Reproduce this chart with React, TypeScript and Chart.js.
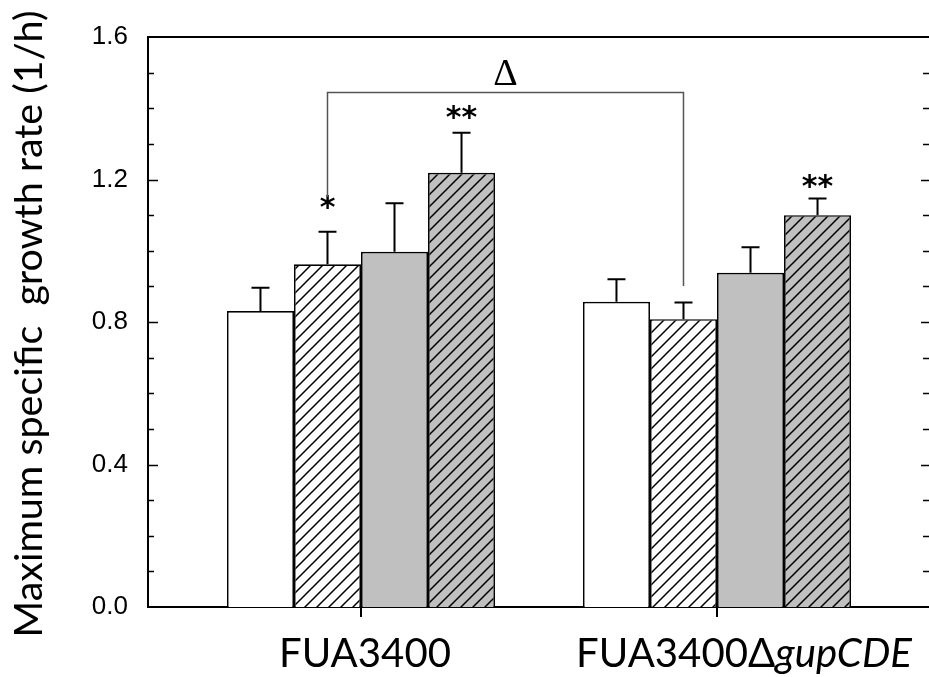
import React, { useEffect, useRef } from "react";
import { Chart, registerables } from "chart.js";

Chart.register(...registerables);

// ---------- data ----------
const categories = ["FUA3400", "FUA3400Δ", "gupCDE"]; // second label = categories[1] + italic categories[2]
const categoryValues = [0, 1];
const seriesNames = ["Condition 1", "Condition 2", "Condition 3", "Condition 4"];
const seriesMeans = [
  [0.831, 0.857],
  [0.962, 0.808],
  [0.997, 0.938],
  [1.219, 1.1],
];
const seriesErrors = [
  [0.065, 0.063],
  [0.091, 0.047],
  [0.136, 0.072],
  [0.112, 0.047],
];
const yTickValues = [0, 0.4, 0.8, 1.2, 1.6];
// significance markers: dataset index, category index, label, value where the label is centred
const starDataset = [1, 3, 3];
const starCategory = [0, 0, 1];
const starLabels = ["*", "**", "**"];
const starValues = [1.135, 1.389, 1.193];
// comparison bracket between dataset 1 of both categories
const bracketDataset = 1;
const bracketTop = 1.446;
const bracketEnds = [1.151, 0.901];
const bracketLabel = "Δ";
const yTitle = "Maximum specific  growth rate (1/h)";

export default function App() {
  const ref = useRef<HTMLCanvasElement>(null);

  useEffect(() => {
    const canvas = ref.current!;
    const ctx = canvas.getContext("2d")!;

    const makeHatch = (bg: string) => {
      const s = 12;
      const t = document.createElement("canvas");
      t.width = s;
      t.height = s;
      const c = t.getContext("2d")!;
      c.fillStyle = bg;
      c.fillRect(0, 0, s, s);
      c.strokeStyle = "#000";
      c.lineWidth = 1.5;
      c.beginPath();
      c.moveTo(-2, s + 2);
      c.lineTo(s + 2, -2);
      c.moveTo(-2, 2);
      c.lineTo(2, -2);
      c.moveTo(s - 2, s + 2);
      c.lineTo(s + 2, s - 2);
      c.stroke();
      return ctx.createPattern(t, "repeat")!;
    };

    const fills: any[] = ["#ffffff", makeHatch("#ffffff"), "#c0c0c0", makeHatch("#c0c0c0")];
    const FONT = "Lato, 'Open Sans', sans-serif";

    const fitSize = (text: string, target: number, style = "") => {
      ctx.font = `${style} 40px ${FONT}`;
      const w = ctx.measureText(text).width;
      return (40 * target) / w;
    };

    const overlay = {
      id: "overlay",
      afterDatasetsDraw(chart: any) {
        const c = chart.ctx as CanvasRenderingContext2D;
        const { left, right, top, bottom } = chart.chartArea;
        const ys = chart.scales.y;
        const xs = chart.scales.x;
        c.save();
        c.strokeStyle = "#000";
        c.fillStyle = "#000";

        // error bars (upper only)
        c.lineWidth = 2;
        seriesMeans.forEach((row, i) => {
          const meta = chart.getDatasetMeta(i);
          row.forEach((m, j) => {
            const el = meta.data[j];
            const yTop = ys.getPixelForValue(m + seriesErrors[i][j]);
            c.beginPath();
            c.moveTo(el.x, el.y);
            c.lineTo(el.x, yTop);
            c.moveTo(el.x - 9, yTop);
            c.lineTo(el.x + 9, yTop);
            c.stroke();
          });
        });

        // top frame line
        c.lineWidth = 2;
        c.beginPath();
        c.moveTo(left - 1, top);
        c.lineTo(right, top);
        c.stroke();

        // y ticks inward (left) and right side ticks
        c.lineWidth = 1.6;
        for (let k = 1; k < 16; k++) {
          const v = k / 10;
          const py = Math.round(ys.getPixelForValue(v)) + 0.5;
          const major = k % 4 === 0;
          c.beginPath();
          c.moveTo(left, py);
          c.lineTo(left + (major ? 10 : 6), py);
          c.moveTo(right, py);
          c.lineTo(right - (major ? 8 : 6), py);
          c.stroke();
        }

        // category ticks (outward)
        c.lineWidth = 2;
        categoryValues.forEach((v) => {
          const px = xs.getPixelForValue(v);
          c.beginPath();
          c.moveTo(px, bottom);
          c.lineTo(px, bottom + 10);
          c.stroke();
        });

        // significance stars
        c.font = `bold 30px 'DejaVu Sans', sans-serif`;
        c.textAlign = "center";
        c.textBaseline = "alphabetic";
        starLabels.forEach((lab, k) => {
          const el = chart.getDatasetMeta(starDataset[k]).data[starCategory[k]];
          const m = c.measureText(lab);
          const cy = ys.getPixelForValue(starValues[k]);
          const base = cy + (m.actualBoundingBoxAscent - m.actualBoundingBoxDescent) / 2;
          c.fillText(lab, el.x, base);
        });

        // bracket
        const bm = chart.getDatasetMeta(bracketDataset);
        const x1 = bm.data[0].x;
        const x2 = bm.data[1].x;
        const yT = Math.round(ys.getPixelForValue(bracketTop)) + 0.5;
        c.strokeStyle = "#555";
        c.lineWidth = 1.5;
        c.beginPath();
        c.moveTo(x1, ys.getPixelForValue(bracketEnds[0]));
        c.lineTo(x1, yT);
        c.lineTo(x2, yT);
        c.lineTo(x2, ys.getPixelForValue(bracketEnds[1]));
        c.stroke();
        c.font = `38px 'Liberation Serif', serif`;
        c.fillStyle = "#000";
        c.textAlign = "center";
        c.textBaseline = "alphabetic";
        c.fillText(bracketLabel, (x1 + x2) / 2, yT - 8);

        // x category labels
        const size = fitSize(categories[0], 172);
        const base = bottom + 60;
        c.textAlign = "left";
        c.font = `${size}px ${FONT}`;
        const w0 = c.measureText(categories[0]).width;
        c.fillText(categories[0], xs.getPixelForValue(categoryValues[0]) + 4 - w0 / 2, base);
        c.font = `${size}px ${FONT}`;
        const wa = c.measureText(categories[1]).width;
        c.font = `italic ${size}px ${FONT}`;
        const wb = c.measureText(categories[2]).width;
        const cx2 = xs.getPixelForValue(categoryValues[1]) + 27;
        const sx = cx2 - (wa + wb) / 2;
        c.font = `${size}px ${FONT}`;
        c.fillText(categories[1], sx, base);
        c.font = `italic ${size}px ${FONT}`;
        c.fillText(categories[2], sx + wa, base);

        // y title
        const ts = fitSize(yTitle, 627);
        c.font = `${ts}px ${FONT}`;
        c.translate(42, 324);
        c.rotate(-Math.PI / 2);
        c.textAlign = "center";
        c.fillText(yTitle, 0, 0);
        c.restore();
      },
    };

    const chart = new Chart(canvas, {
      type: "bar",
      data: {
        datasets: seriesMeans.map((row, i) => ({
          label: seriesNames[i],
          data: row.map((v, j) => ({ x: categoryValues[j], y: v })),
          backgroundColor: fills[i],
          borderColor: "#000",
          borderWidth: 1.7,
          borderSkipped: "start",
          categoryPercentage: 0.753,
          barPercentage: 1,
        })),
      },
      options: {
        responsive: false,
        animation: false,
        layout: { padding: { top: 37, right: 0, left: 0, bottom: 0 } },
        plugins: { legend: { display: false }, tooltip: { enabled: false }, title: { display: false } },
        scales: {
          x: {
            type: "linear",
            offset: false,
            min: -0.59831,
            max: 1.59551,
            grid: { display: false, drawTicks: false, offset: false },
            border: { display: true, color: "#000", width: 2 },
            ticks: { display: false },
            afterBuildTicks: (s: any) => {
              s.ticks = categoryValues.map((v) => ({ value: v }));
            },
            afterFit: (s: any) => {
              s.height = 70;
            },
          },
          y: {
            min: 0,
            max: 1.6,
            grid: { display: false, drawTicks: false },
            border: { display: true, color: "#000", width: 2 },
            afterBuildTicks: (s: any) => {
              s.ticks = yTickValues.map((v) => ({ value: v }));
            },
            ticks: {
              color: "#000",
              padding: 20,
              font: { family: "'Liberation Sans', Arial, sans-serif", size: 26 },
              callback: (v: any) => Number(v).toFixed(1),
            },
            afterFit: (s: any) => {
              s.width = 148;
            },
          },
        },
      },
      plugins: [overlay],
    } as any);

    return () => chart.destroy();
  }, []);

  return (
    <div style={{ position: "absolute", left: 0, top: 0, width: 929, height: 677, background: "#fff" }}>
      <canvas ref={ref} width={929} height={677} style={{ display: "block" }} />
    </div>
  );
}
